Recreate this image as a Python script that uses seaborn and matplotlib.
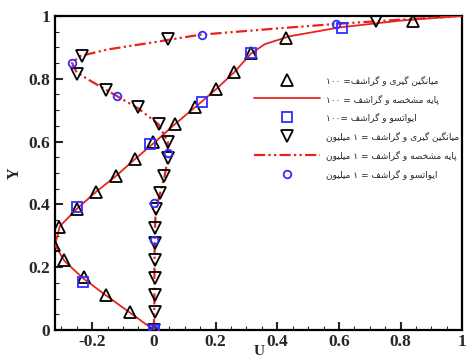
import re
import matplotlib
matplotlib.use('Agg')
import matplotlib.pyplot as plt
from matplotlib.ticker import MultipleLocator
import seaborn as sns

# Re=100: averaging (open up triangles)
u_avg_100 = [0, -0.077, -0.155, -0.226, -0.29, -0.325, -0.306, -0.25, -0.187, -0.123,
             -0.061, -0.003, 0.068, 0.135, 0.2, 0.261, 0.316, 0.43, 0.84]
y_avg_100 = [0, 0.057, 0.11, 0.168, 0.222, 0.272, 0.327, 0.385, 0.44, 0.49,
             0.545, 0.6, 0.657, 0.711, 0.768, 0.822, 0.883, 0.93, 0.984]
# Re=100: base characteristic (solid red line)
u_base_100 = [0, -0.08, -0.155, -0.23, -0.29, -0.32, -0.305, -0.25, -0.187, -0.123,
              -0.06, 0, 0.068, 0.135, 0.2, 0.26, 0.315, 0.36, 0.44, 0.6, 0.8, 1.0]
y_base_100 = [0, 0.057, 0.11, 0.165, 0.22, 0.27, 0.33, 0.385, 0.44, 0.49,
              0.545, 0.595, 0.655, 0.71, 0.765, 0.82, 0.88, 0.91, 0.935, 0.963, 0.985, 1.0]
# Re=100: Iwatsu (blue squares)
u_iw_100 = [0, -0.23, -0.248, -0.013, 0.155, 0.316, 0.61]
y_iw_100 = [0, 0.153, 0.39, 0.593, 0.727, 0.883, 0.96]
# 1 million: averaging (open down triangles)
u_avg_1m = [0, 0.003, 0.003, 0.003, 0.003, 0.003, 0.003, 0.006, 0.019, 0.032, 0.045,
            0.045, 0.016, -0.05, -0.155, -0.248, -0.232, 0.045, 0.72]
y_avg_1m = [0, 0.057, 0.11, 0.165, 0.222, 0.276, 0.324, 0.384, 0.435, 0.489, 0.546,
            0.597, 0.657, 0.71, 0.765, 0.816, 0.873, 0.927, 0.984]
# 1 million: base characteristic (red dash-dot-dot)
u_base_1m = [0, 0.002, 0.002, 0.003, 0.006, 0.02, 0.035, 0.045, 0.045, 0.015, -0.05,
             -0.12, -0.2, -0.25, -0.265, -0.24, -0.15, 0.0, 0.15, 0.4, 0.6, 0.8, 1.0]
y_base_1m = [0, 0.1, 0.2, 0.3, 0.38, 0.435, 0.49, 0.545, 0.6, 0.655, 0.705,
             0.745, 0.79, 0.82, 0.85, 0.872, 0.893, 0.916, 0.94, 0.96, 0.975, 0.988, 1.0]
# 1 million: Iwatsu (blue circles)
u_iw_1m = [0, 0, 0, 0.045, -0.119, -0.265, 0.155, 0.59]
y_iw_1m = [0, 0.286, 0.403, 0.565, 0.746, 0.851, 0.94, 0.975]

labels = ['میانگین گیری و گراشف= ۱۰۰',
          'پایه مشخصه و گراشف = ۱۰۰',
          'ایواتسو و گراشف =۱۰۰',
          'میانگین گیری و گراشف = ۱ میلیون',
          'پایه مشخصه و گراشف = ۱ میلیون',
          'ایواتسو و گراشف = ۱ میلیون']

x_ticks = [-0.2, 0, 0.2, 0.4, 0.6, 0.8, 1]
x_tick_labels = ['-0.2', '0', '0.2', '0.4', '0.6', '0.8', '1']
y_ticks = [0, 0.2, 0.4, 0.6, 0.8, 1]
y_tick_labels = ['0', '0.2', '0.4', '0.6', '0.8', '1']

# isolated, final, initial, medial (None = letter does not join forward)
FORMS = {
    'ا': ('\uFE8D', '\uFE8E', None, None),
    'ر': ('\uFEAD', '\uFEAE', None, None),
    'و': ('\uFEED', '\uFEEE', None, None),
    'پ': ('\uFB56', '\uFB57', '\uFB58', '\uFB59'),
    'ت': ('\uFE95', '\uFE96', '\uFE97', '\uFE98'),
    'خ': ('\uFEA5', '\uFEA6', '\uFEA7', '\uFEA8'),
    'س': ('\uFEB1', '\uFEB2', '\uFEB3', '\uFEB4'),
    'ش': ('\uFEB5', '\uFEB6', '\uFEB7', '\uFEB8'),
    'ص': ('\uFEB9', '\uFEBA', '\uFEBB', '\uFEBC'),
    'ف': ('\uFED1', '\uFED2', '\uFED3', '\uFED4'),
    'ل': ('\uFEDD', '\uFEDE', '\uFEDF', '\uFEE0'),
    'م': ('\uFEE1', '\uFEE2', '\uFEE3', '\uFEE4'),
    'ن': ('\uFEE5', '\uFEE6', '\uFEE7', '\uFEE8'),
    'ه': ('\uFEE9', '\uFEEA', '\uFEEB', '\uFEEC'),
    'گ': ('\uFB92', '\uFB93', '\uFB94', '\uFB95'),
    'ی': ('\uFBFC', '\uFBFD', '\uFBFE', '\uFBFF'),
}


def rtl(text):
    # shape letters and lay the line out right to left (matplotlib has no bidi)
    out = []
    for i, c in enumerate(text):
        if c not in FORMS:
            out.append(c)
            continue
        prev = text[i - 1] if i > 0 else ''
        nxt = text[i + 1] if i + 1 < len(text) else ''
        joins_prev = prev in FORMS and FORMS[prev][2] is not None
        joins_next = FORMS[c][2] is not None and nxt in FORMS
        iso, fin, ini, med = FORMS[c]
        if joins_prev and joins_next:
            out.append(med)
        elif joins_prev:
            out.append(fin)
        elif joins_next:
            out.append(ini)
        else:
            out.append(iso)
    visual = ''.join(out)[::-1]
    return re.sub('[۰-۹]+', lambda m: m.group(0)[::-1], visual)


sns.set_style('ticks')
plt.rcParams['font.family'] = ['DejaVu Sans']

fig = plt.figure(figsize=(4.67, 3.61), dpi=100)
ax = fig.add_axes([0.118, 0.086, 0.872, 0.870])

red = '#e8231f'
blue = '#2f2fff'

sns.lineplot(x=u_avg_100, y=y_avg_100, sort=False, estimator=None, ax=ax,
             marker='^', linestyle='', markersize=8.5, markerfacecolor='none',
             markeredgecolor='black', markeredgewidth=1.3, color='black',
             label=rtl(labels[0]), zorder=4)
sns.lineplot(x=u_base_100, y=y_base_100, sort=False, estimator=None, ax=ax,
             color=red, linewidth=1.3, label=rtl(labels[1]), zorder=3)
sns.lineplot(x=u_iw_100, y=y_iw_100, sort=False, estimator=None, ax=ax,
             marker='s', linestyle='', markersize=7.5, markerfacecolor='none',
             markeredgecolor=blue, markeredgewidth=1.3, color=blue,
             label=rtl(labels[2]), zorder=5)
sns.lineplot(x=u_avg_1m, y=y_avg_1m, sort=False, estimator=None, ax=ax,
             marker='v', linestyle='', markersize=8.5, markerfacecolor='none',
             markeredgecolor='black', markeredgewidth=1.3, color='black',
             label=rtl(labels[3]), zorder=4)
sns.lineplot(x=u_base_1m, y=y_base_1m, sort=False, estimator=None, ax=ax,
             color=red, linewidth=1.6, linestyle=(0, (5, 1.5, 1, 1.5, 1, 1.5)),
             label=rtl(labels[4]), zorder=3)
sns.lineplot(x=u_iw_1m, y=y_iw_1m, sort=False, estimator=None, ax=ax,
             marker='o', linestyle='', markersize=5.5, markerfacecolor='none',
             markeredgecolor=blue, markeredgewidth=1.3, color=blue,
             label=rtl(labels[5]), zorder=5)

ax.set_xlim(-0.32, 1.0)
ax.set_ylim(0, 1)
ax.set_xticks(x_ticks, x_tick_labels)
ax.set_yticks(y_ticks, y_tick_labels)
ax.xaxis.set_minor_locator(MultipleLocator(0.05))
ax.yaxis.set_minor_locator(MultipleLocator(0.05))
ax.tick_params(which='major', direction='in', length=6, width=1.5, labelsize=12.5)
ax.tick_params(which='minor', direction='in', length=3, width=0.8)
ax.tick_params(axis='x', pad=3)
for lab in ax.get_xticklabels() + ax.get_yticklabels():
    lab.set_fontfamily('Liberation Serif')
    lab.set_fontweight('bold')
for sp in ax.spines.values():
    sp.set_linewidth(1.6)
    sp.set_color('black')

ax.set_xlabel('U', fontfamily='Liberation Serif', fontweight='bold', fontsize=11, labelpad=-4)
ax.set_ylabel('Y', fontfamily='Liberation Serif', fontweight='bold', fontsize=11.5, labelpad=4)

ax.legend(loc='upper left', bbox_to_anchor=(0.489, 0.812), frameon=False,
          fontsize=6.5, handlelength=7.3, handletextpad=0.6, labelspacing=0.98,
          borderpad=0, borderaxespad=0)

fig.savefig('out.png', dpi=100)
